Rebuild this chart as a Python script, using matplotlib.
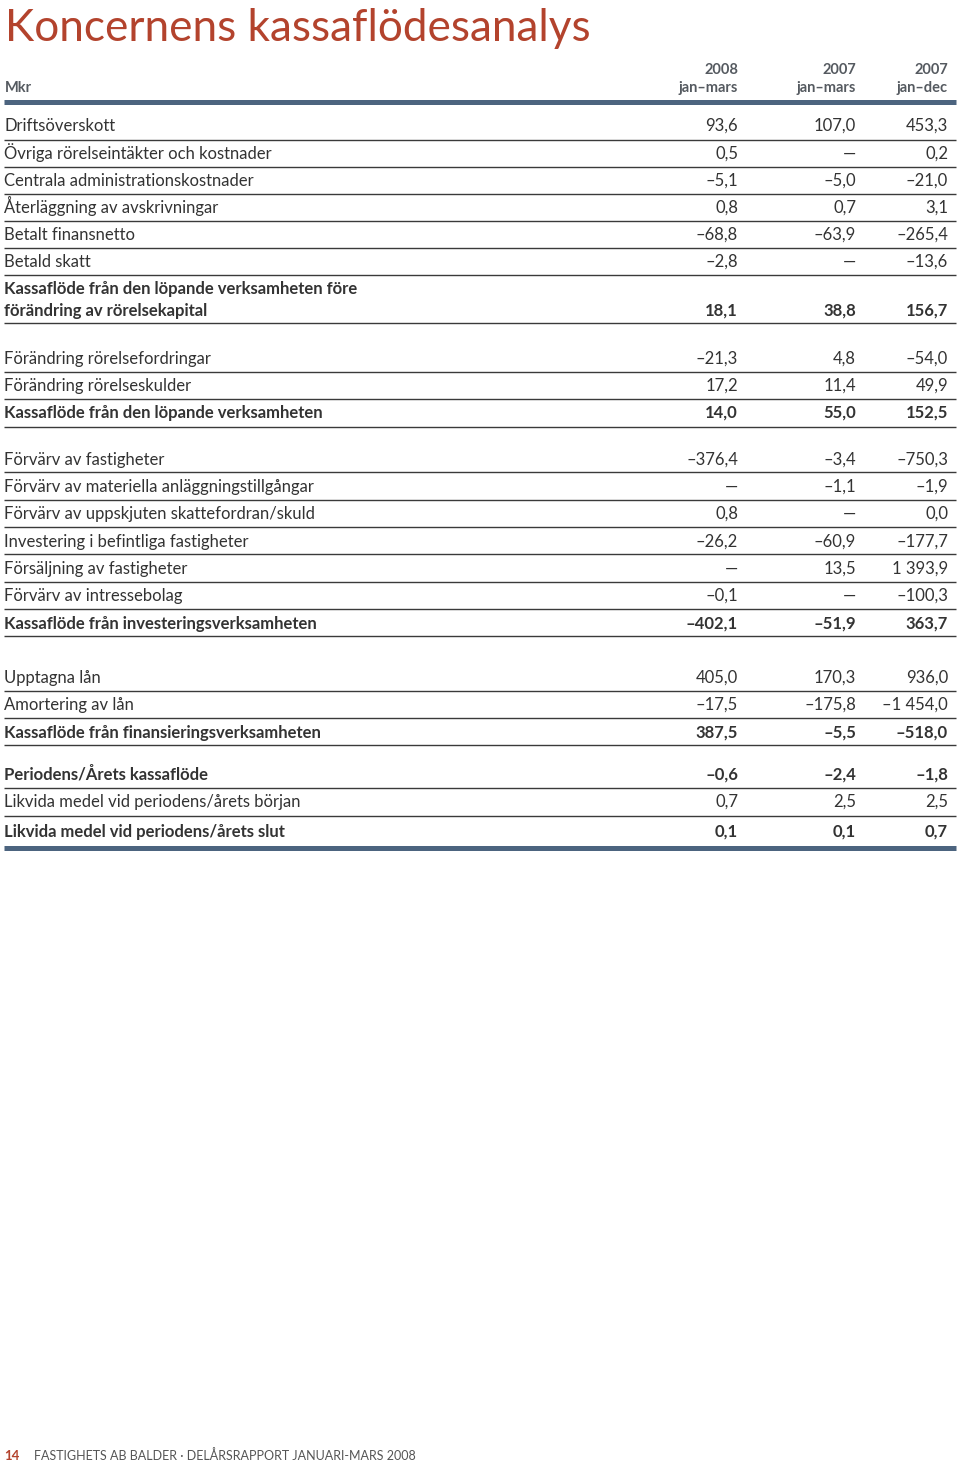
import matplotlib
matplotlib.use("Agg")
import matplotlib.pyplot as plt

# ---------------- data ----------------
title = "Koncernens kassaflödesanalys"
unit_label = "Mkr"
col_years = ["2008", "2007", "2007"]
col_periods = ["jan–mars", "jan–mars", "jan–dec"]

labels = [
    "Driftsöverskott",
    "Övriga rörelseintäkter och kostnader",
    "Centrala administrationskostnader",
    "Återläggning av avskrivningar",
    "Betalt finansnetto",
    "Betald skatt",
    "Kassaflöde från den löpande verksamheten före\nförändring av rörelsekapital",
    "Förändring rörelsefordringar",
    "Förändring rörelseskulder",
    "Kassaflöde från den löpande verksamheten",
    "Förvärv av fastigheter",
    "Förvärv av materiella anläggningstillgångar",
    "Förvärv av uppskjuten skattefordran/skuld",
    "Investering i befintliga fastigheter",
    "Försäljning av fastigheter",
    "Förvärv av intressebolag",
    "Kassaflöde från investeringsverksamheten",
    "Upptagna lån",
    "Amortering av lån",
    "Kassaflöde från finansieringsverksamheten",
    "Periodens/Årets kassaflöde",
    "Likvida medel vid periodens/årets början",
    "Likvida medel vid periodens/årets slut",
]
v2008_q1 = [93.6, 0.5, -5.1, 0.8, -68.8, -2.8, 18.1, -21.3, 17.2, 14.0,
            -376.4, None, 0.8, -26.2, None, -0.1, -402.1, 405.0, -17.5, 387.5,
            -0.6, 0.7, 0.1]
v2007_q1 = [107.0, None, -5.0, 0.7, -63.9, None, 38.8, 4.8, 11.4, 55.0,
            -3.4, -1.1, None, -60.9, 13.5, None, -51.9, 170.3, -175.8, -5.5,
            -2.4, 2.5, 0.1]
v2007_full = [453.3, 0.2, -21.0, 3.1, -265.4, -13.6, 156.7, -54.0, 49.9, 152.5,
              -750.3, -1.9, 0.0, -177.7, 1393.9, -100.3, 363.7, 936.0, -1454.0, -518.0,
              -1.8, 2.5, 0.7]
bold_rows = [6, 9, 16, 19, 20, 22]
footer_page = "14"
footer_text = "FASTIGHETS AB BALDER · DELÅRSRAPPORT JANUARI-MARS 2008"

# ---------------- layout ----------------
row_y = [125, 153, 180, 207, 234, 261, 310, 358, 385, 412, 459, 486, 513,
         541, 568, 595, 623, 677, 704, 732, 774, 801, 831]
line_y = [140, 167, 194, 221, 248, 275, 323, 372, 399, 427, 472, 500, 527,
          554, 582, 609, 636, 691, 718, 745, 788, 816]
col_x = [738, 856, 948]
BASE = 6  # baseline offset below row centre

FONT = "Lato"
RED = "#b3432d"
TXT = "#333333"
HEAD = "#555a60"
RULE = "#4c647f"
THIN = "#3a3a3a"


def fmt(v):
    if v is None:
        return "—"
    s = f"{abs(v):,.1f}".replace(",", " ").replace(".", ",")
    return ("–" + s) if v < 0 else s


fig = plt.figure(figsize=(9.6, 14.68), dpi=100)
ax = fig.add_axes([0, 0, 1, 1])
ax.set_xlim(0, 960)
ax.set_ylim(1468, 0)
ax.axis("off")

ax.text(5, 41, title, fontsize=31.8, color=RED, family=FONT, va="baseline", ha="left")

ax.text(5, 92, unit_label, fontsize=10.5, color=HEAD, family=FONT,
        fontweight="bold", va="baseline")
for x, yr, per in zip(col_x, col_years, col_periods):
    ax.text(x, 74, yr, fontsize=10.5, color=HEAD, family=FONT, fontweight="bold",
            va="baseline", ha="right")
    ax.text(x, 92, per, fontsize=10.5, color=HEAD, family=FONT, fontweight="bold",
            va="baseline", ha="right")

ax.plot([4, 956], [102, 102], color=RULE, lw=3.6, solid_capstyle="butt")
ax.plot([4, 956], [848, 848], color=RULE, lw=3.6, solid_capstyle="butt")
for y in line_y:
    ax.plot([4, 956], [y, y], color=THIN, lw=1.0, solid_capstyle="butt")

for i, lab in enumerate(labels):
    b = i in bold_rows
    w = "bold" if b else "normal"
    y = row_y[i] + BASE
    if "\n" in lab:
        l1, l2 = lab.split("\n")
        ax.text(4, y - 22, l1, fontsize=12, color=TXT, family=FONT,
                fontweight=w, va="baseline", ha="left")
        ax.text(4, y, l2, fontsize=12, color=TXT, family=FONT,
                fontweight=w, va="baseline", ha="left")
    else:
        ax.text(4, y, lab, fontsize=12, color=TXT, family=FONT,
                fontweight=w, va="baseline", ha="left")
    for x, vals in zip(col_x, (v2008_q1, v2007_q1, v2007_full)):
        ax.text(x, y, fmt(vals[i]), fontsize=12, color=TXT, family=FONT,
                fontweight=w, va="baseline", ha="right")

ax.text(4, 1460, footer_page, fontsize=9.5, color=RED, family=FONT,
        fontweight="bold", va="baseline")
ax.text(34, 1460, footer_text, fontsize=9, color="#555555", family=FONT,
        va="baseline")

fig.savefig("out.png", dpi=100)
